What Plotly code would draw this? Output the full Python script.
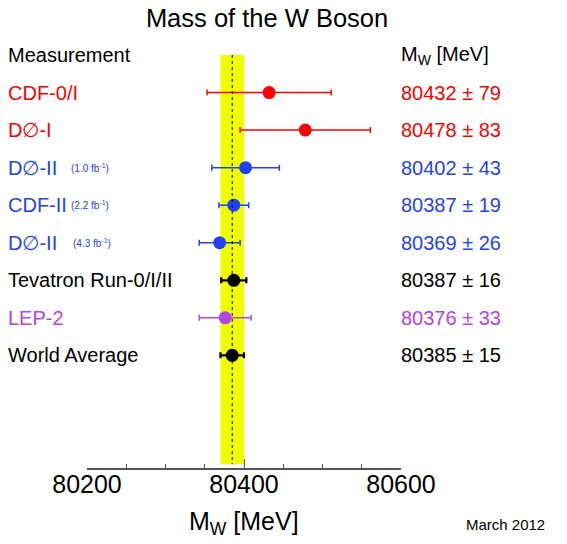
import plotly.graph_objects as go

# Measurements of the W boson mass
names = ["CDF-0/I", "D∅-I", "D∅-II", "CDF-II", "D∅-II",
         "Tevatron Run-0/I/II", "LEP-2", "World Average"]
lumi = ["", "", "(1.0 fb<sup>-1</sup>)", "(2.2 fb<sup>-1</sup>)",
        "(4.3 fb<sup>-1</sup>)", "", "", ""]
mass = [80432, 80478, 80402, 80387, 80369, 80387, 80376, 80385]
err = [79, 83, 43, 19, 26, 16, 33, 15]
colors = ["#ff0000", "#ff0000", "#1f43f0", "#1f43f0", "#1f43f0",
          "#000000", "#b344e6", "#000000"]

world_mass = 80385
world_err = 15

FONT = "Liberation Sans, Arial, sans-serif"
LEFT_X = -0.258
RIGHT_X = 0.9936

fig = go.Figure()

# world average band and central value
fig.add_shape(type="rect", xref="x", yref="y",
              x0=world_mass - world_err, x1=world_mass + world_err,
              y0=-1, y1=9.9, fillcolor="#f0ff00", line_width=0, layer="below")
fig.add_shape(type="line", xref="x", yref="y",
              x0=world_mass, x1=world_mass, y0=-1, y1=9.9,
              line=dict(color="black", width=1, dash="3px,3px"))

for i in range(len(names)):
    thick = 2.2 if colors[i] == "#000000" else 1.5
    fig.add_trace(go.Scatter(
        x=[mass[i]], y=[i], mode="markers",
        marker=dict(size=13, color=colors[i]),
        error_x=dict(type="data", array=[err[i]], color=colors[i],
                     thickness=thick, width=3),
        showlegend=False, hoverinfo="skip"))

    fig.add_annotation(x=LEFT_X, xref="paper", y=i, yref="y",
                       text=names[i], showarrow=False, xanchor="left",
                       font=dict(family=FONT, size=20, color=colors[i]))
    fig.add_annotation(x=RIGHT_X, xref="paper", y=i, yref="y",
                       text="%d ± %d" % (mass[i], err[i]), showarrow=False,
                       xanchor="left",
                       font=dict(family=FONT, size=20, color=colors[i]))
    if lumi[i]:
        lx = -0.0500 if i == 4 else -0.0583
        fig.add_annotation(x=lx, xref="paper", y=i, yref="y",
                           text=lumi[i], showarrow=False, xanchor="left",
                           font=dict(family=FONT, size=10, color=colors[i]))

# headers
fig.add_annotation(x=LEFT_X, xref="paper", y=-1, yref="y",
                   text="Measurement", showarrow=False, xanchor="left",
                   font=dict(family=FONT, size=20, color="black"))
fig.add_annotation(x=RIGHT_X, xref="paper", y=-1, yref="y",
                   text="M<sub>W</sub> [MeV]", showarrow=False, xanchor="left",
                   font=dict(family=FONT, size=20, color="black"))

# axis title and date
fig.add_annotation(x=0.5, xref="paper", y=-0.1285, yref="paper",
                   text="M<sub>W</sub> [MeV]", showarrow=False,
                   xanchor="center", yanchor="middle",
                   font=dict(family=FONT, size=25, color="black"))
fig.add_annotation(x=1.2006, xref="paper", y=-0.133, yref="paper",
                   text="March 2012", showarrow=False,
                   xanchor="left", yanchor="middle",
                   font=dict(family=FONT, size=15, color="black"))

fig.update_layout(
    width=567, height=544,
    margin=dict(l=87, r=166, t=40, b=76),
    paper_bgcolor="white", plot_bgcolor="white",
    title=dict(text="Mass of the W Boson", x=0.471, xref="container",
               xanchor="center", y=1 - 18 / 544, yanchor="middle",
               font=dict(family=FONT, size=25.5, color="black")),
    font=dict(family=FONT),
)
fig.update_xaxes(range=[80200, 80600], dtick=200, tick0=80200,
                 tickformat="d", ticklabelstandoff=-7,
                 ticks="inside", ticklen=9, tickwidth=1, tickcolor="#555",
                 showline=True, linecolor="#555", linewidth=1.5,
                 showgrid=False, zeroline=False,
                 tickfont=dict(family=FONT, size=25, color="black"),
                 minor=dict(ticks="inside", dtick=50, ticklen=4,
                            tickcolor="#555", showgrid=False))
fig.update_yaxes(range=[10, -1.4], visible=False, showgrid=False,
                 zeroline=False)

# drop the page's default body margin so the figure sits at the corner
fig.write_html("out.html", config={"displayModeBar": False},
               post_script="document.body.style.margin='0';")
